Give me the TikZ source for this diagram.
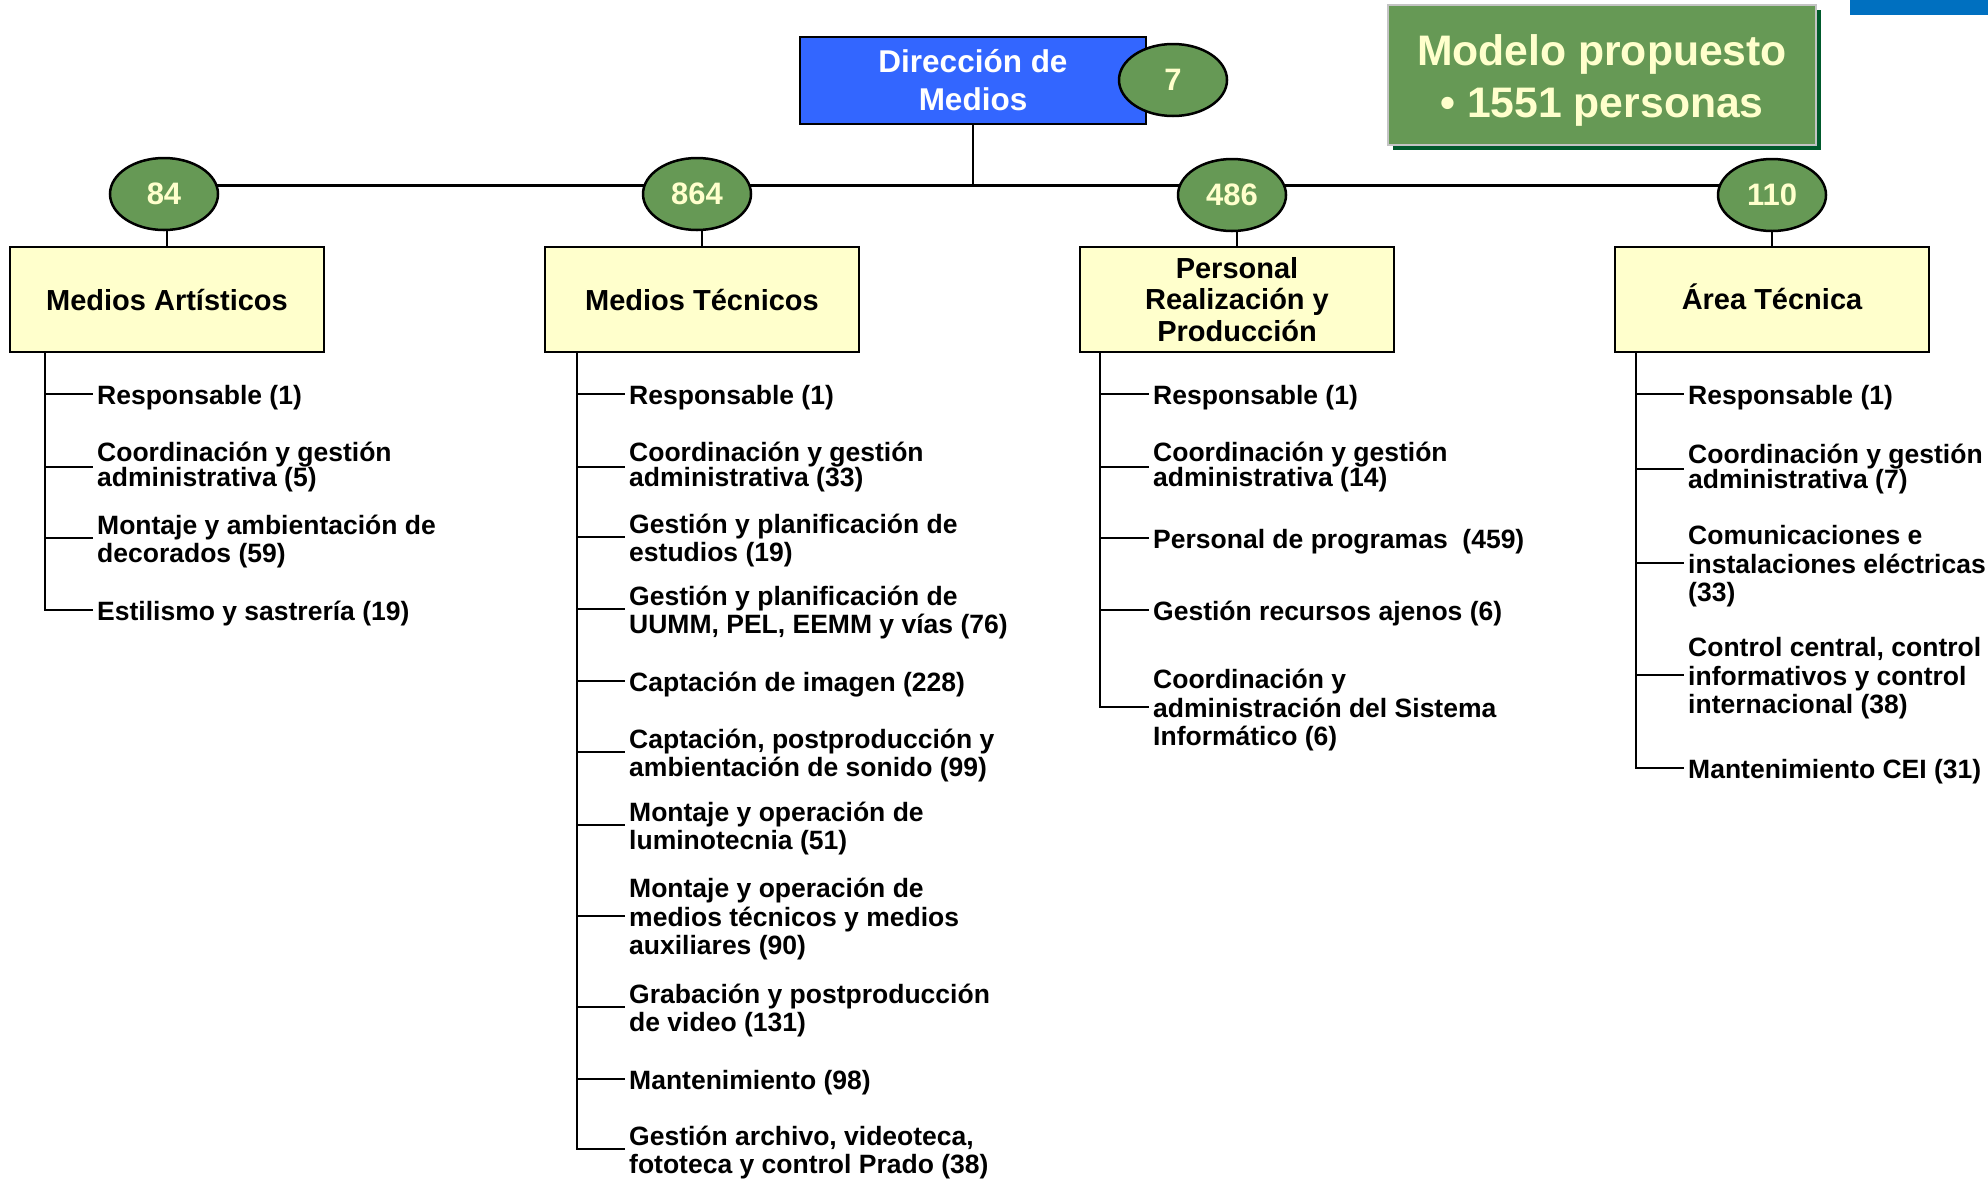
\documentclass[tikz,border=0pt]{standalone}
\usepackage{fontspec}
\setmainfont{Liberation Sans}
\usetikzlibrary{shapes.geometric,backgrounds,shadows}
\definecolor{boxyellow}{HTML}{FFFFCC}
\definecolor{ellgreen}{HTML}{669955}
\definecolor{dirblue}{HTML}{3366FF}
\definecolor{cornerblue}{HTML}{0070C0}
\definecolor{shadowgreen}{HTML}{005A2C}
\definecolor{numyellow}{HTML}{FFFFCC}
\definecolor{modelgray}{HTML}{C4C4C4}
\begin{document}
\begin{tikzpicture}[x=1pt,y=-1pt,
 unitbox/.style={draw=black, line width=2.5pt, fill=boxyellow, minimum width=314pt, minimum height=105pt, inner sep=0pt, align=center, font=\fontsize{29}{31.5}\selectfont\bfseries},
 count/.style={ellipse, draw=black, line width=2.5pt, fill=ellgreen, minimum width=108pt, minimum height=72pt, inner sep=0pt, text=numyellow, font=\fontsize{31}{33}\selectfont\bfseries},
 item/.style={anchor=west, inner sep=0pt, align=left, font=\fontsize{26.5}{28.5}\selectfont\bfseries, execute at begin node={\rule{0pt}{27pt}}},
 two/.style={execute at begin node={\rule{0pt}{54.5pt}}},
 three/.style={execute at begin node={\rule{0pt}{83pt}}},
 tight/.style={font=\fontsize{26.5}{25}\selectfont\bfseries, execute at begin node={}},
 link/.style={line width=2.5pt},
]
\useasboundingbox (0,0) rectangle (1988,1179);

% top
\node[fill=cornerblue, minimum width=138pt, minimum height=15pt, inner sep=0pt, anchor=north west] (corner) at (1850,0) {};
\node[draw=black, line width=2.5pt, fill=dirblue, text=white, minimum width=346pt, minimum height=87pt, inner sep=0pt, align=center, font=\fontsize{31.5}{38}\selectfont\bfseries] (dir) at (973,80.5) {Dirección de\\Medios};
\node[count] (e0) at (1173,80) {7};
\node[fill=ellgreen, draw=modelgray, line width=2.5pt, minimum width=428pt, minimum height=140pt, inner sep=0pt, general shadow={fill=shadowgreen, shadow xshift=5pt, shadow yshift=-5pt}] (model) at (1602,75) {};
\node[text=numyellow, align=center, inner sep=0pt, font=\fontsize{42.7}{52}\selectfont\bfseries] (modeltext) at (1602,80) {Modelo propuesto\\• 1551 personas};
\coordinate (hub) at (973,185);

% unit boxes and counts
\node[unitbox] (b1) at (167,299.5) {Medios Artísticos};
\node[unitbox] (b2) at (702,299.5) {Medios Técnicos};
\node[unitbox] (b3) at (1237,299.5) {Personal\\Realización y\\Producción};
\node[unitbox, text height=20.8pt, text depth=0pt] (b4) at (1772,299.5) {Área Técnica};
\node[count] (e1) at (164,194) {84};
\node[count] (e2) at (697,194) {864};
\node[count] (e3) at (1232,195) {486};
\node[count] (e4) at (1772,195) {110};

% trunks
\coordinate (t1) at (45,352);
\coordinate (t2) at (577,352);
\coordinate (t3) at (1100,352);
\coordinate (t4) at (1636,352);

% column 1
\node[item] (a1) at (97,394) {Responsable (1)};
\node[item,tight] (a2) at (97,467) {Coordinación y gestión\\administrativa (5)};
\node[item,two] (a3) at (97,538) {Montaje y ambientación de\\decorados (59)};
\node[item] (a4) at (97,610) {Estilismo y sastrería (19)};

% column 2
\node[item] (m1) at (629,394) {Responsable (1)};
\node[item,tight] (m2) at (629,467) {Coordinación y gestión\\administrativa (33)};
\node[item,two] (m3) at (629,537) {Gestión y planificación de\\estudios (19)};
\node[item,two] (m4) at (629,609) {Gestión y planificación de\\UUMM, PEL, EEMM y vías (76)};
\node[item] (m5) at (629,681) {Captación de imagen (228)};
\node[item,two] (m6) at (629,752) {Captación, postproducción y\\ambientación de sonido (99)};
\node[item,two] (m7) at (629,825) {Montaje y operación de\\luminotecnia (51)};
\node[item,three] (m8) at (629,916) {Montaje y operación de\\medios técnicos y medios\\auxiliares (90)};
\node[item,two] (m9) at (629,1007) {Grabación y postproducción\\de video (131)};
\node[item] (m10) at (629,1079) {Mantenimiento (98)};
\node[item,two] (m11) at (629,1149) {Gestión archivo, videoteca,\\fototeca y control Prado (38)};

% column 3
\node[item] (p1) at (1153,394) {Responsable (1)};
\node[item,tight] (p2) at (1153,467) {Coordinación y gestión\\administrativa (14)};
\node[item] (p3) at (1153,538) {Personal de programas\ \ (459)};
\node[item] (p4) at (1153,610) {Gestión recursos ajenos (6)};
\node[item,three] (p5) at (1153,707) {Coordinación y\\administración del Sistema\\Informático (6)};

% column 4
\node[item] (r1) at (1688,394) {Responsable (1)};
\node[item,tight] (r2) at (1688,469) {Coordinación y gestión\\administrativa (7)};
\node[item,three] (r3) at (1688,563) {Comunicaciones e\\instalaciones eléctricas\\(33)};
\node[item,three] (r4) at (1688,675) {Control central, control\\informativos y control\\internacional (38)};
\node[item] (r5) at (1688,768) {Mantenimiento CEI (31)};

\begin{pgfonlayer}{background}
 \draw[link] (dir.south) -- (hub);
 \draw[line width=3pt] (e1.center |- hub) -- (e4.center |- hub);
 \foreach \i in {1,2,3,4} {\draw[link] (b\i.north) -- (b\i.north |- e\i.center);}
 % column 1
 \draw[link] (t1) -- (t1 |- a4.west) -- ([xshift=-4pt]a4.west);
 \foreach \n in {a1,a2,a3} {\draw[link] (t1 |- \n.west) -- ([xshift=-4pt]\n.west);}
 % column 2
 \draw[link] (t2) -- (t2 |- m11.west) -- ([xshift=-4pt]m11.west);
 \foreach \n in {m1,m2,m3,m4,m5,m6,m7,m8,m9,m10} {\draw[link] (t2 |- \n.west) -- ([xshift=-4pt]\n.west);}
 % column 3
 \draw[link] (t3) -- (t3 |- p5.west) -- ([xshift=-4pt]p5.west);
 \foreach \n in {p1,p2,p3,p4} {\draw[link] (t3 |- \n.west) -- ([xshift=-4pt]\n.west);}
 % column 4
 \draw[link] (t4) -- (t4 |- r5.west) -- ([xshift=-4pt]r5.west);
 \foreach \n in {r1,r2,r3,r4} {\draw[link] (t4 |- \n.west) -- ([xshift=-4pt]\n.west);}
\end{pgfonlayer}
\end{tikzpicture}
\end{document}
